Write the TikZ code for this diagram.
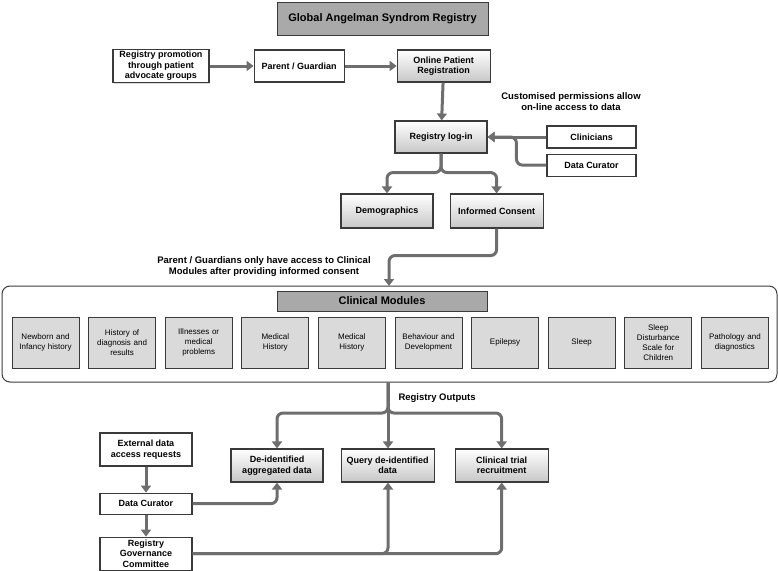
\documentclass[tikz,border=0pt]{standalone}
\usepackage{fontspec}
\setmainfont{Liberation Sans}
\usetikzlibrary{arrows.meta,positioning,shadows}
\definecolor{gasrgray}{HTML}{6E6E6E}
\definecolor{gasrdark}{HTML}{3A3A3A}
\definecolor{gasrhead}{HTML}{A9A9A9}
\definecolor{gasrmod}{HTML}{DADADA}

\begin{document}
\begin{tikzpicture}[
  x=1pt, y=-1pt,
  node distance=5pt and 44pt,
  box/.style={draw=gasrdark, line width=1.1pt, fill=white, align=center,
    font=\bfseries\fontsize{9}{10.5}\selectfont, minimum width=92pt,
    minimum height=32pt, inner sep=2pt,
    drop shadow={shadow xshift=1.2pt, shadow yshift=-1.2pt, opacity=0.3}},
  greybox/.style={box, top color=white, bottom color=black!22},
  modbox/.style={draw=gasrdark, line width=1pt, fill=gasrmod, align=center,
    font=\fontsize{8}{10}\selectfont, text width=63pt, minimum height=51pt,
    inner sep=2pt},
  head/.style={draw=gasrdark, line width=1pt, fill=gasrhead,
    font=\bfseries\fontsize{11}{13}\selectfont,
    drop shadow={shadow xshift=1.2pt, shadow yshift=-1.2pt, opacity=0.3}},
  note/.style={font=\bfseries\fontsize{9.5}{11}\selectfont, align=center},
  arrow/.style={-{Triangle[length=7pt, width=10pt]}, line width=3pt,
    draw=gasrgray, rounded corners=6pt}
]
\useasboundingbox (0,0) rectangle (778,570);

\node[head, minimum width=211pt, minimum height=33pt] (title) at (382.5,18.5)
  {Global Angelman Syndrom Registry};
\node[box, minimum width=96pt] (promo) at (161,66)
  {Registry promotion\\through patient\\advocate groups};
\node[box, minimum width=90pt, right=44pt of promo] (parent) {Parent / Guardian};
\node[greybox, minimum width=93pt, right=52pt of parent] (online)
  {Online Patient\\Registration};
\node[greybox] (login) at (441,137) {Registry log-in};
\node[box, minimum width=89pt, minimum height=22pt] (clin) at (591.5,137) {Clinicians};
\node[box, minimum width=89pt, minimum height=22pt, below=5pt of clin] (curtop)
  {Data Curator};
\node[note] (permnote) at (571,102)
  {Customised permissions allow\\on-line access to data};
\node[greybox, minimum height=34pt] (demog) at (387,211) {Demographics};
\node[greybox, minimum width=93pt, minimum height=34pt, right=16pt of demog]
  (consent) {Informed Consent};
\node[note] (consentnote) at (264,266.5)
  {Parent / Guardians only have access to Clinical\\Modules after providing informed consent};

\node[draw=gasrdark, line width=1pt, rounded corners=8pt, minimum width=775pt,
  minimum height=96pt] (modframe) at (389.5,334) {};
\node[head, minimum width=210pt, minimum height=20pt] (modhead) at (382,301)
  {Clinical Modules};
\foreach \txt [count=\i from 0] in {{Newborn and\\Infancy history},
    {History of\\diagnosis and\\results}, {Illnesses or\\medical\\problems},
    {Medical\\History}, {Medical\\History}, {Behaviour and\\Development},
    {Epilepsy}, {Sleep}, {Sleep\\Disturbance\\Scale for\\Children},
    {Pathology and\\diagnostics}}
  \node[modbox] (mod\i) at (45.5+76.6*\i,342.5) {\txt};

\node[note, anchor=west] (outnote) at (395,398) {Registry Outputs};
\node[greybox, minimum height=33pt] (deid) at (277,465.5)
  {De-identified\\aggregated data};
\node[greybox, minimum width=93pt, minimum height=33pt, right=17pt of deid]
  (query) {Query de-identified\\data};
\node[greybox, minimum width=93pt, minimum height=33pt, right=20pt of query]
  (trial) {Clinical trial\\recruitment};
\node[box, minimum height=33pt] (extreq) at (146,449.5)
  {External data\\access requests};
\node[box, minimum height=21pt, below=26pt of extreq] (curbot) {Data Curator};
\node[box, minimum height=33pt, below=22pt of curbot] (rgc)
  {Registry\\Governance\\Committee};

\coordinate (modin) at (389,286);
\coordinate (modout) at (388,382);

\draw[arrow] (promo) -- (parent);
\draw[arrow] (parent) -- (online);
\draw[arrow] (online) -- (login);
\draw[arrow] (clin) -- (login);
\draw[arrow] (curtop.west) -- ++(-30,0) |- (login.east);
\draw[arrow] (login.south) -- ++(0,19) -| (demog.north);
\draw[arrow] (login.south) -- ++(0,19) -| (consent.north);
\draw[arrow] (consent.south) -- ++(0,27) -| (modin);
\draw[arrow] (modout) -- ++(0,31) -| (deid.north);
\draw[arrow] (modout) -- (modout |- query.north);
\draw[arrow] (modout) -- ++(0,31) -| (trial.north);
\draw[arrow] (extreq) -- (curbot);
\draw[arrow] (curbot) -- (rgc);
\draw[arrow] (curbot.east) -| (deid.south);
\draw[arrow] (rgc.east) -| (modout |- query.south);
\draw[arrow] (rgc.east) -| (trial.south);
\end{tikzpicture}
\end{document}
